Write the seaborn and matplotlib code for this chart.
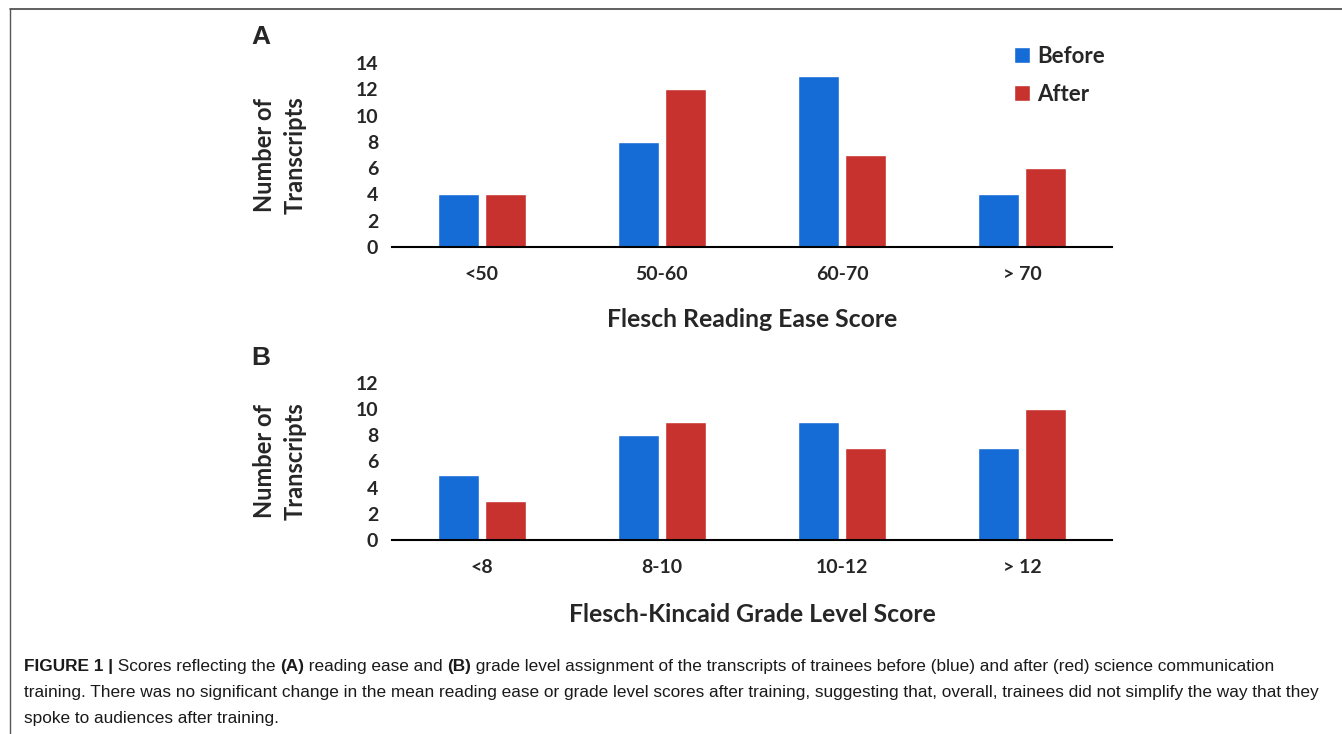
import pandas as pd
import matplotlib
matplotlib.use("Agg")
import matplotlib.pyplot as plt
from matplotlib.lines import Line2D
from matplotlib.patches import Patch
import seaborn as sns

# data
ease_bins = ['<50', '50-60', '60-70', '> 70']
ease_before = [4, 8, 13, 4]
ease_after = [4, 12, 7, 6]

grade_bins = ['<8', '8-10', '10-12', '> 12']
grade_before = [5, 8, 9, 7]
grade_after = [3, 9, 7, 10]

groups = ['Before', 'After']
colors = ['#166CD6', '#C8322E']

sns.set_theme(style="white")
plt.rcParams['font.family'] = ['Lato', 'DejaVu Sans']

W, H = 1342, 734
fig = plt.figure(figsize=(W / 100, H / 100), dpi=100)


def long_table(bins, before, after):
    return pd.DataFrame({
        'bin': bins * 2,
        'count': before + after,
        'when': ['Before'] * len(bins) + ['After'] * len(bins),
    })


def panel(rect, bins, before, after, ymax, xlabel):
    ax = fig.add_axes(rect)
    df = long_table(bins, before, after)
    sns.barplot(data=df, x='bin', y='count', hue='when', hue_order=groups,
                palette=colors, width=0.52, gap=0.11, saturation=1,
                legend=False, ax=ax)
    ax.set_xlim(-0.5, 3.5)
    ax.set_ylim(0, ymax)
    ax.set_yticks(range(0, ymax + 1, 2))
    sns.despine(ax=ax, left=True)
    ax.spines['bottom'].set_color('black')
    ax.spines['bottom'].set_linewidth(1.5)
    ax.tick_params(axis='both', length=0, labelsize=14)
    ax.tick_params(axis='y', pad=10)
    ax.tick_params(axis='x', pad=14)
    for lab in ax.get_xticklabels() + ax.get_yticklabels():
        lab.set_fontweight('bold')
    ax.set_ylabel('Number of\nTranscripts', fontsize=17, fontweight='bold',
                  linespacing=1.4)
    ax.yaxis.set_label_coords(-0.119, 0.5)
    ax.set_xlabel(xlabel, fontsize=17.8, fontweight='bold')
    return ax


axA = panel([392 / W, 1 - 247 / H, 720 / W, 184 / H], ease_bins,
            ease_before, ease_after, 14, 'Flesch Reading Ease Score')
axA.xaxis.set_label_coords(0.5, -0.33)

axB = panel([392 / W, 1 - 540 / H, 720 / W, 157 / H], grade_bins,
            grade_before, grade_after, 12, 'Flesch-Kincaid Grade Level Score')
axB.xaxis.set_label_coords(0.5, -0.40)

handles = [Patch(facecolor=c, label=g) for c, g in zip(colors, groups)]
fig.legend(handles=handles, loc='upper left', bbox_to_anchor=(994 / W, 1 - 26 / H),
           frameon=False, handlelength=0.7, handleheight=0.7, handletextpad=0.35,
           labelspacing=0.75, prop={'weight': 'bold', 'size': 16})

fig.text(251 / W, 1 - 37 / H, 'A', fontsize=19, fontweight='bold',
         family=['Liberation Sans', 'DejaVu Sans'], va='center')
fig.text(251 / W, 1 - 358 / H, 'B', fontsize=19, fontweight='bold',
         family=['Liberation Sans', 'DejaVu Sans'], va='center')

# frame of the figure box
fig.add_artist(Line2D([10 / W, 1], [1 - 9 / H, 1 - 9 / H], color='#444444', lw=1.2))
fig.add_artist(Line2D([10 / W, 10 / W], [0, 1 - 9 / H], color='#555555', lw=1.0))

# caption with bold pieces
caption = [
    [('FIGURE 1 |', 'bold'), (' Scores reflecting the ', 'normal'), ('(A)', 'bold'),
     (' reading ease and ', 'normal'), ('(B)', 'bold'),
     (' grade level assignment of the transcripts of trainees before (blue) and after (red) science communication', 'normal')],
    [('training. There was no significant change in the mean reading ease or grade level scores after training, suggesting that, overall, trainees did not simplify the way that they', 'normal')],
    [('spoke to audiences after training.', 'normal')],
]
cap_family = ['Liberation Sans', 'DejaVu Sans']
renderer = fig.canvas.get_renderer()
for row, y_px in zip(caption, [667, 693, 719]):
    x = 24 / W
    for s, w in row:
        t = fig.text(x, 1 - y_px / H, s, fontsize=12.45, fontweight=w,
                     family=cap_family, va='center', color='#1a1a1a')
        x += t.get_window_extent(renderer).width / W

fig.savefig('out.png', dpi=100)
